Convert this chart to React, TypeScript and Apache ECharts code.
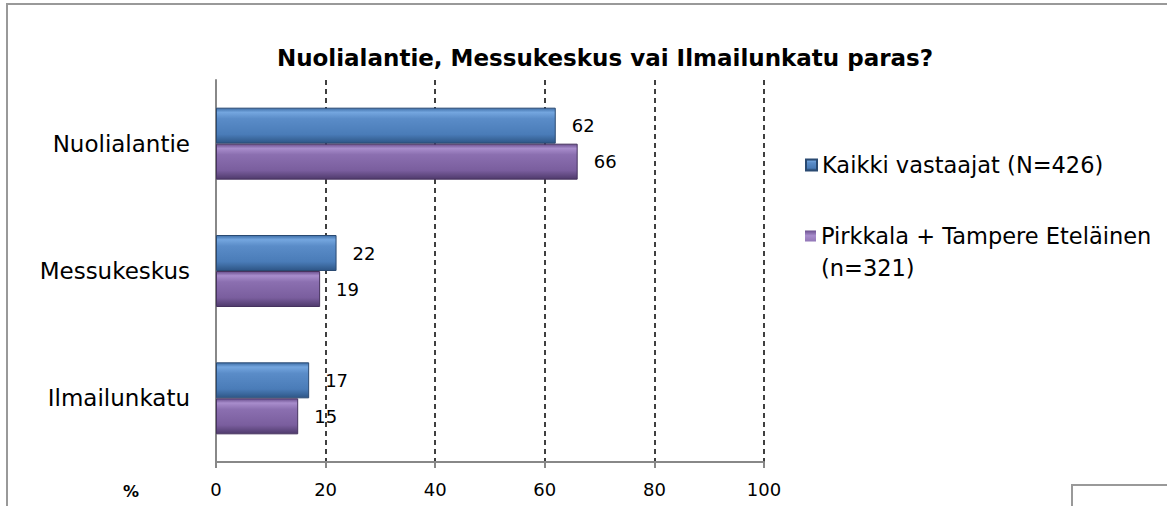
import React, { useEffect, useRef } from "react";
import * as echarts from "echarts";

const categories = ["Nuolialantie", "Messukeskus", "Ilmailunkatu"];
const seriesNames = ["Kaikki vastaajat (N=426)", "Pirkkala + Tampere Eteläinen\n(n=321)"];
const allRespondents = [62, 22, 17];
const pirkkalaSouth = [66, 19, 15];
const tickValues = [0, 20, 40, 60, 80, 100];
const titleText = "Nuolialantie, Messukeskus vai Ilmailunkatu paras?";
const axisUnit = "%";

const FONT = "'DejaVu Sans', 'Noto Sans', sans-serif";

const blueGrad = new echarts.graphic.LinearGradient(0, 0, 0, 1, [
  { offset: 0, color: "#3f6fa8" },
  { offset: 0.12, color: "#74a6df" },
  { offset: 0.3, color: "#5a8cc8" },
  { offset: 0.75, color: "#4a7cb8" },
  { offset: 1, color: "#2e5686" },
]);
const purpleGrad = new echarts.graphic.LinearGradient(0, 0, 0, 1, [
  { offset: 0, color: "#6a4f8e" },
  { offset: 0.12, color: "#a88dcc" },
  { offset: 0.3, color: "#8b6fb0" },
  { offset: 0.75, color: "#7a5e9e" },
  { offset: 1, color: "#4f3a6c" },
]);

export default function App() {
  const ref = useRef<HTMLDivElement>(null);
  useEffect(() => {
    if (!ref.current) return;
    const chart = echarts.init(ref.current, null, { renderer: "svg" });
    const labelCommon = {
      show: true,
      position: "right" as const,
      distance: 16,
      color: "#000",
      fontFamily: FONT,
      fontSize: 18,
    };
    const legendText = { fontFamily: FONT, fontSize: 22.5, color: "#000", lineHeight: 32 };
    chart.setOption({
      animation: false,
      backgroundColor: "#fff",
      title: {
        text: titleText,
        left: 600,
        textAlign: "center",
        top: 41,
        textStyle: { fontFamily: FONT, fontSize: 23, fontWeight: "bold", color: "#000" },
      },
      legend: [
        {
          orient: "vertical",
          left: 800,
          top: 144,
          itemWidth: 11,
          itemHeight: 11,
          icon: "rect",
          textStyle: legendText,
          data: [seriesNames[0]],
        },
        {
          orient: "vertical",
          left: 800,
          top: 215,
          itemWidth: 11,
          itemHeight: 43,
          icon: "path://M0,0h11v11h-11z M0,42.95h0.05v0.05h-0.05z",
          itemStyle: { borderWidth: 0 },
          textStyle: legendText,
          data: [seriesNames[1]],
        },
      ],
      grid: { left: 216, right: 403, top: 80, bottom: 44, containLabel: false },
      xAxis: {
        type: "value",
        min: tickValues[0],
        max: tickValues[tickValues.length - 1],
        interval: 20,
        axisLine: { show: true, lineStyle: { color: "#888", width: 2 } },
        axisTick: { show: true, length: 6, lineStyle: { color: "#888", width: 2 } },
        axisLabel: { color: "#000", fontFamily: FONT, fontSize: 18, margin: 18 },
        splitLine: { show: true, lineStyle: { color: "#000", type: [5, 4], width: 1.5 } },
      },
      yAxis: {
        type: "category",
        inverse: true,
        data: categories,
        axisLine: { show: true, lineStyle: { color: "#888", width: 2 } },
        axisTick: { show: false },
        axisLabel: { color: "#000", fontFamily: FONT, fontSize: 23, margin: 26 },
      },
      series: [
        {
          name: seriesNames[0],
          type: "bar",
          data: allRespondents,
          barWidth: 36,
          barGap: "0%",
          itemStyle: { color: blueGrad, borderColor: "#2a4a72", borderWidth: 1 },
          label: labelCommon,
        },
        {
          name: seriesNames[1],
          type: "bar",
          data: pirkkalaSouth,
          barWidth: 36,
          barGap: "0%",
          itemStyle: { color: purpleGrad, borderColor: "#46335f", borderWidth: 1 },
          label: labelCommon,
        },
      ],
      graphic: [
        {
          type: "polyline",
          shape: { points: [[7, 506], [7, 4], [1167, 4]] },
          style: { stroke: "#999", lineWidth: 2, fill: "none" },
        },
        {
          type: "polyline",
          shape: { points: [[1072, 506], [1072, 485], [1167, 485]] },
          style: { stroke: "#999", lineWidth: 2, fill: "none" },
        },
        {
          type: "text",
          left: 123,
          top: 483,
          style: { text: axisUnit, fontFamily: FONT, fontSize: 16, fontWeight: "bold", fill: "#000" },
        },
      ],
    });
    return () => chart.dispose();
  }, []);
  return (
    <div
      ref={ref}
      style={{ position: "fixed", left: 0, top: 0, width: 1167, height: 506 }}
    />
  );
}
